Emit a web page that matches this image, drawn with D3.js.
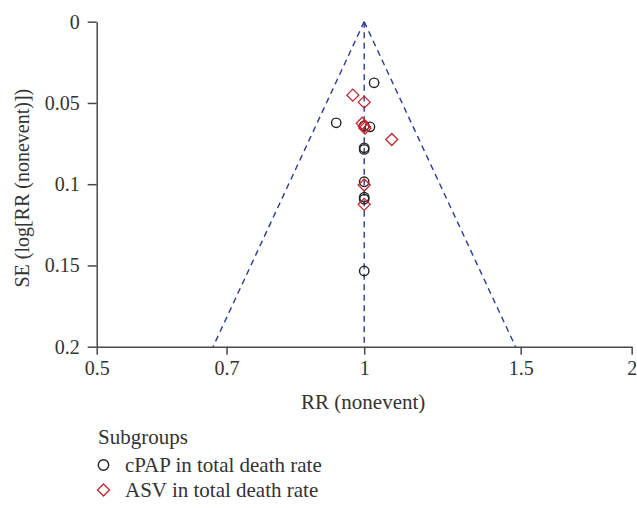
<!DOCTYPE html>
<html lang="en">
<head>
  <meta charset="UTF-8">
  <title>Funnel plot</title>
  <style>
    body { margin: 0; background: #fff; }
    svg { display: block; font-family: "Liberation Serif", "DejaVu Serif", serif; }
    .axis path, .axis line { stroke: #4a4a4a; stroke-width: 1.5; }
    .axis text { font-size: 20px; fill: #333; font-family: "Liberation Serif", serif; }
    .guide { fill: none; stroke: #2b3a98; stroke-width: 1.4; stroke-dasharray: 6 4.5; }
    .cpap { fill: none; stroke: #222; stroke-width: 1.4; }
    .asv { fill: none; stroke: #c4262e; stroke-width: 1.3; }
    .label { font-size: 20px; fill: #333; }
    .legend { font-size: 21px; fill: #333; }
  </style>
</head>
<body>
<div id="chart"></div>
<script src="https://d3js.org/d3.v7.min.js"></script>
<script>
// data
const xTicks = [0.5, 0.7, 1, 1.5, 2];
const yTicks = [0, 0.05, 0.1, 0.15, 0.2];

const cpapRR = [1.026, 0.930, 1.015, 1.0, 1.0, 1.0, 1.0, 1.0, 1.0, 1.0];
const cpapSE = [0.0376, 0.0622, 0.0647, 0.0640, 0.0776, 0.0786, 0.0985, 0.1080, 0.1092, 0.1534];

const asvRR = [0.971, 1.0, 0.995, 1.0, 1.002, 1.074, 1.0, 1.0];
const asvSE = [0.0452, 0.0495, 0.0625, 0.0645, 0.0655, 0.0725, 0.1005, 0.1124];

const pooledRR = 1.0;
const funnelEnds = [0.676, 1.48];   // RR at SE = 0.2
const funnelSE = 0.2;

const legendLabels = ["cPAP in total death rate", "ASV in total death rate"];

(function () {
  const width = 637, height = 508;
  const left = 96.7, right = 631.7, top = 21.7, bottom = 346.7;

  const svg = d3.select('#chart').append('svg')
    .attr('width', width)
    .attr('height', height);

  const x = d3.scaleLog().domain([0.5, 2]).range([left, right]);
  const y = d3.scaleLinear().domain([0, 0.2]).range([top, bottom]);

  // axes
  svg.append('g')
    .attr('class', 'axis')
    .attr('transform', `translate(0,${bottom})`)
    .call(d3.axisBottom(x).tickValues(xTicks).tickFormat(d3.format('')).tickSize(8).tickSizeOuter(0).tickPadding(6));

  svg.append('g')
    .attr('class', 'axis')
    .attr('transform', `translate(${left},0)`)
    .call(d3.axisLeft(y).tickValues(yTicks).tickFormat(d3.format('')).tickSize(9).tickSizeOuter(0).tickPadding(8));

  // funnel guide lines
  const g = svg.append('g');
  g.append('line').attr('class', 'guide')
    .attr('x1', x(pooledRR)).attr('y1', y(0))
    .attr('x2', x(pooledRR)).attr('y2', y(funnelSE));
  funnelEnds.forEach(v => {
    g.append('line').attr('class', 'guide')
      .attr('x1', x(pooledRR)).attr('y1', y(0))
      .attr('x2', x(v)).attr('y2', y(funnelSE));
  });

  // points
  const diamond = s => `M0,${-s}L${s},0L0,${s}L${-s},0Z`;

  g.selectAll('.cpap')
    .data(cpapRR.map((d, i) => [d, cpapSE[i]]))
    .enter()
    .append('circle')
    .attr('class', 'cpap')
    .attr('cx', d => x(d[0]))
    .attr('cy', d => y(d[1]))
    .attr('r', 4.7);

  g.selectAll('.asv')
    .data(asvRR.map((d, i) => [d, asvSE[i]]))
    .enter()
    .append('path')
    .attr('class', 'asv')
    .attr('d', diamond(6))
    .attr('transform', d => `translate(${x(d[0])},${y(d[1])})`);

  // axis titles
  svg.append('text').attr('class', 'legend')
    .attr('x', (left + right) / 2 - 1).attr('y', 409)
    .attr('text-anchor', 'middle')
    .text('RR (nonevent)');

  svg.append('text').attr('class', 'label')
    .attr('transform', `translate(29,${(top + bottom) / 2 + 4}) rotate(-90)`)
    .attr('text-anchor', 'middle')
    .text('SE (log[RR (nonevent)])');

  // legend
  svg.append('text').attr('class', 'legend')
    .attr('x', 98).attr('y', 444)
    .text('Subgroups');

  const lg = svg.append('g');
  lg.append('circle').attr('class', 'cpap')
    .attr('cx', 103.5).attr('cy', 465).attr('r', 5.2);
  lg.append('text').attr('class', 'legend')
    .attr('x', 125).attr('y', 472)
    .text(legendLabels[0]);
  lg.append('path').attr('class', 'asv')
    .attr('d', diamond(6))
    .attr('transform', 'translate(103.5,490)');
  lg.append('text').attr('class', 'legend')
    .attr('x', 125).attr('y', 497)
    .text(legendLabels[1]);
})();
</script>
</body>
</html>
